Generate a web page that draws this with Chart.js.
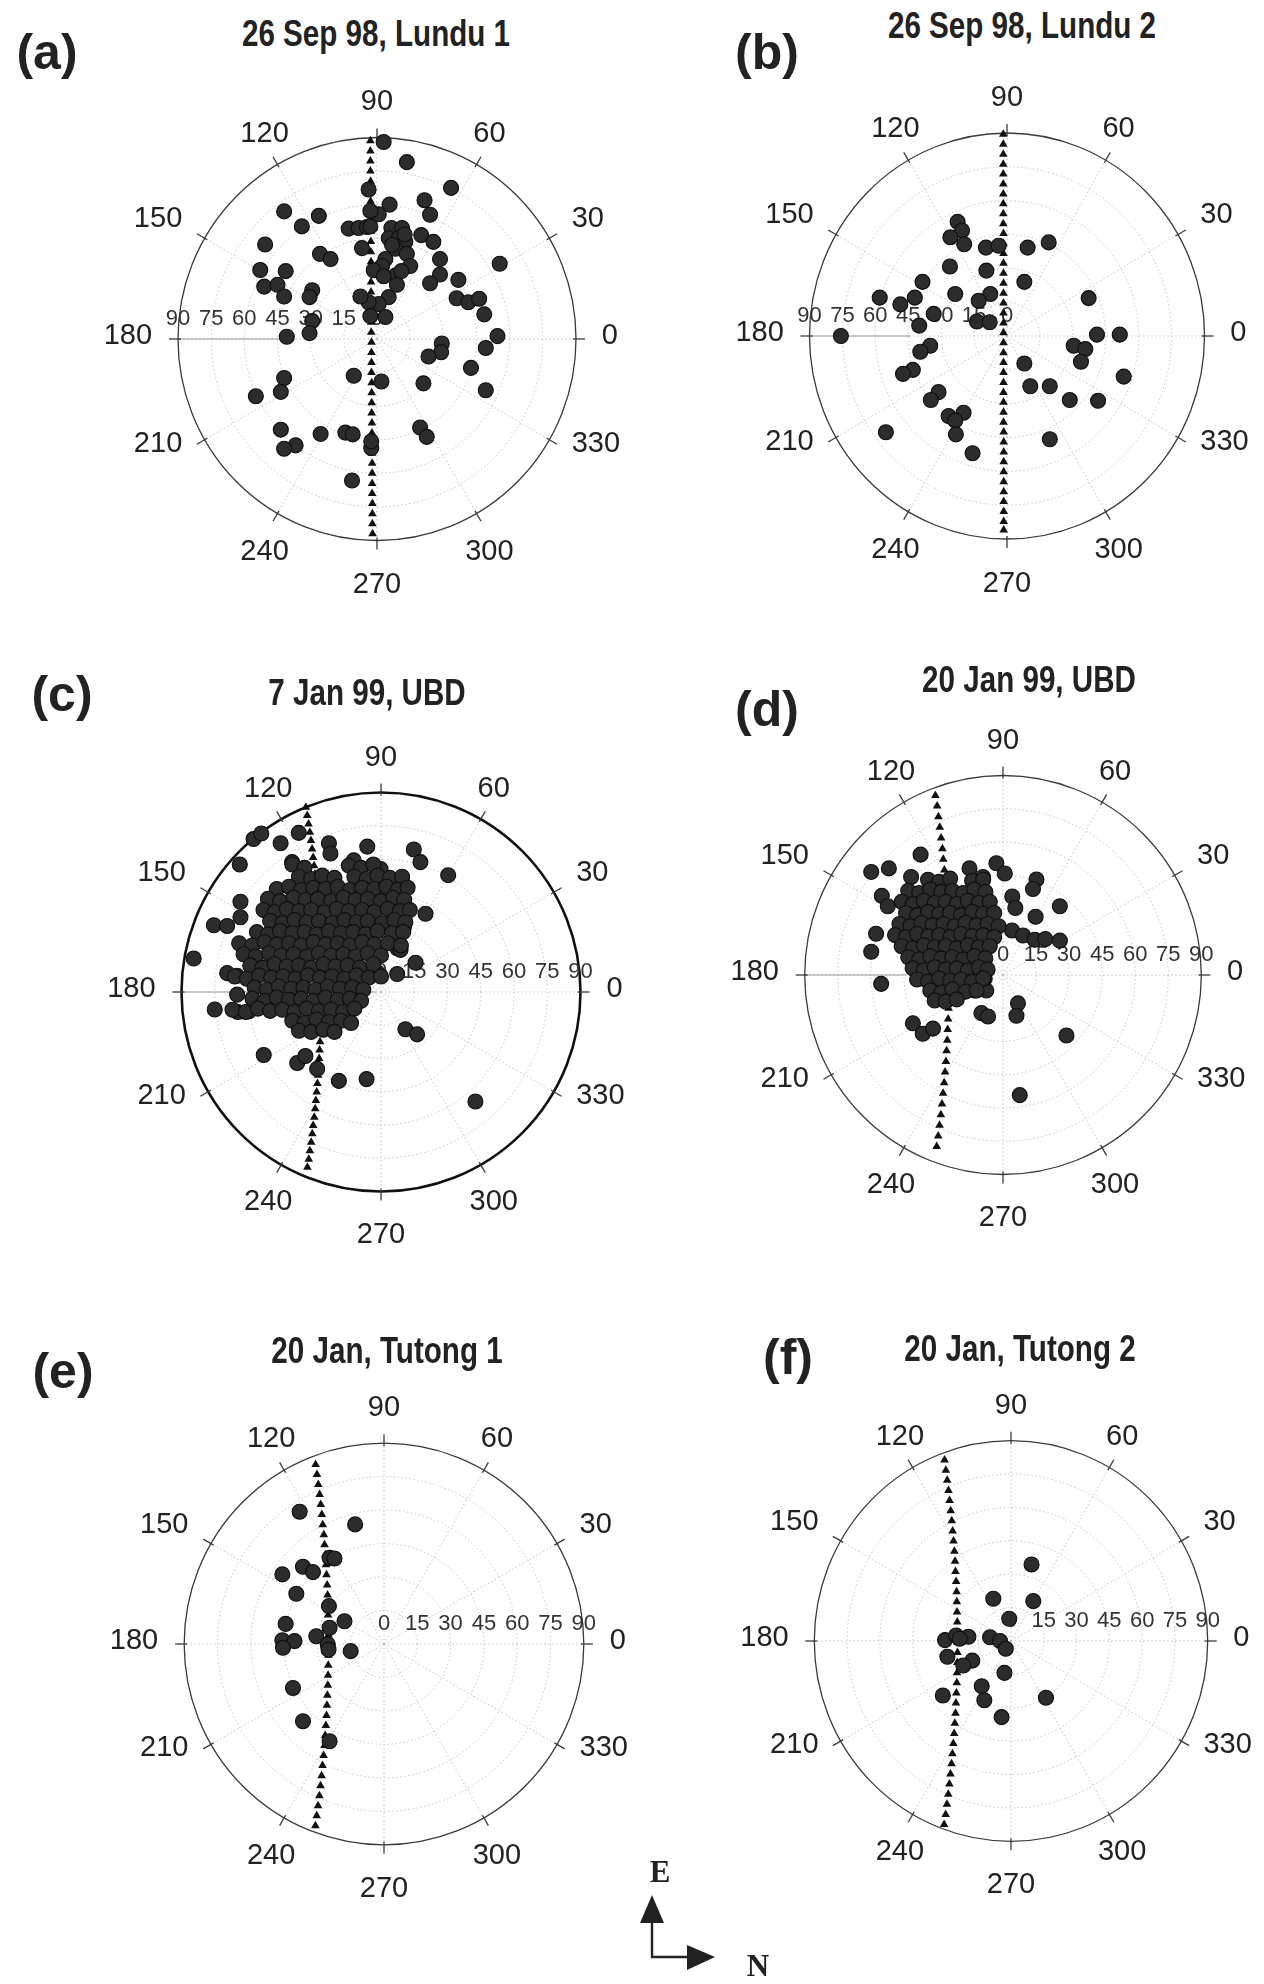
<!DOCTYPE html>
<html>
<head>
<meta charset="utf-8">
<script src="https://cdn.jsdelivr.net/npm/chart.js@4.4.0/dist/chart.umd.min.js"></script>
<style>
  html, body { margin: 0; padding: 0; background: #fff; }
  #page { position: relative; width: 1264px; height: 1984px; overflow: hidden; background: #fff; }
  .panel { position: absolute; }
  .title { position: absolute; transform: translate(-50%, -50%) scaleX(0.8); font: bold 37px "Liberation Sans", Arial, sans-serif; color: #222; white-space: nowrap; }
  .letter { position: absolute; transform: translate(-50%, -50%); font: bold 50px "Liberation Sans", Arial, sans-serif; color: #222; }
  #compass { position: absolute; left: 629px; top: 1844px; }
</style>
</head>
<body>
<div id="page"></div>
<script>
// Sky-plot axes: azimuth labels (deg) and zenith-angle rings (deg)
const AZIMUTH_TICKS = [0, 30, 60, 90, 120, 150, 180, 210, 240, 270, 300, 330];
const ZENITH_TICKS = [0, 15, 30, 45, 60, 75, 90];

const PANEL_TITLES = ['26 Sep 98, Lundu 1', '26 Sep 98, Lundu 2', '7 Jan 99, UBD', '20 Jan 99, UBD', '20 Jan, Tutong 1', '20 Jan, Tutong 2'];
const PANEL_LETTERS = ['(a)', '(b)', '(c)', '(d)', '(e)', '(f)'];

// Observations: [x, y] = zenith-angle projection (x toward N, y toward E), degrees
const lundu1Dots = [[3,88],[13.5,79],[33.5,67.5],[21.5,62],[24,55.5],[5.7,60],[-3.8,66.8],[-42,57],[-26.3,55],[-34,50.3],[-50.6,42.2],[-52.8,30.8],[-41.3,30.3],[-51,23.4],[-45,24.2],[-42,19],[-25.8,38],[-21,35.7],[-29.3,21.8],[-30.5,18.7],[-29.3,8],[-30.5,2.6],[-40.8,1],[-12.8,49.3],[-8.3,49.6],[-4.5,50],[-6.8,40.6],[0.8,55.7],[6.5,49.6],[11.3,49.6],[5.3,45],[9.8,45],[12.8,43.4],[8.3,40.3],[13.5,38],[3.8,35.7],[2.3,32.6],[15,32.6],[20,46.4],[25.5,43.4],[28.5,35.7],[28.5,28.8],[24,24.9],[36.8,26.4],[55.5,33.6],[36,18.2],[41.3,16.4],[46.2,18],[48.5,11],[54.5,1.3],[49.2,-4],[29.3,-2],[29,-5.9],[23.3,-7.8],[42.5,-12.9],[49.2,-22.9],[21,-19.8],[19.5,-39.5],[22.5,-43.7],[8.3,28.3],[9,24.2],[5.3,18.7],[0.8,15.6],[-3.8,16.4],[-7.5,19],[-1.5,30.7],[3.8,9.8],[-3,10.2],[-10.5,-16.4],[2,-19],[-42,-17.4],[-43.5,-23.6],[-54.8,-25.6],[-43.5,-40.5],[-36.8,-47.5],[-42,-49],[-25.5,-42.4],[-14.3,-41.8],[-11,-42.6],[-2.6,-48.7],[-11.3,-63.2],[-2.6,-45.7],[6.8,42],[12.5,46.7],[3,28],[11,30.3],[-3,57.2],[-3,50.3]];
const lundu1Track = [[-3,88.5],[-3,84],[-3,79.5],[-3,75],[-2.9,70.5],[-2.9,66],[-2.9,61.5],[-2.9,57],[-2.8,52.5],[-2.8,48],[-2.8,43.5],[-2.8,39],[-2.7,34.5],[-2.7,30],[-2.7,25.5],[-2.7,21],[-2.6,16.5],[-2.6,12],[-2.6,7.5],[-2.6,3],[-2.5,-1.5],[-2.5,-6],[-2.5,-10.5],[-2.5,-15],[-2.4,-19.5],[-2.4,-24],[-2.4,-28.5],[-2.4,-33],[-2.3,-37.5],[-2.3,-42],[-2.3,-46.5],[-2.3,-51],[-2.2,-55.5],[-2.2,-60],[-2.2,-64.5],[-2.2,-69],[-2.1,-73.5],[-2.1,-78],[-2.1,-82.5],[-2,-87]];

const lundu2Dots = [[-22.5,50.6],[-20.5,46.8],[-25.8,43.8],[-19.5,40.7],[-9.6,39.2],[-3.8,40],[9.4,39.2],[19,41.5],[-26,30.8],[-9.4,29],[7.9,24],[-38.5,24],[-23.6,18.6],[-7.6,18.6],[-12.9,15.6],[-58,17],[-48.6,14],[-42,17],[-33.4,9.8],[-40,4.6],[-13.7,6.4],[-7.9,6.1],[-75.7,0],[37.2,16.8],[41,0.6],[51.4,0.6],[30.4,-4.3],[35.7,-5.8],[33.7,-11.4],[53.2,-18],[7.9,-12.2],[10.6,-22.3],[19.5,-22.3],[28.6,-28.4],[41.5,-28.7],[19.5,-45.8],[-35,-4.3],[-39.5,-7],[-42.9,-15],[-47.4,-16.8],[-31.2,-24.9],[-34.7,-28.4],[-26.6,-35.5],[-19.8,-34],[-23.6,-37.5],[-23.3,-43.6],[-15.7,-52],[-55.2,-42.7]];
const lundu2Track = [[-1.7,89.5],[-1.7,85],[-1.7,80.6],[-1.7,76.2],[-1.7,71.8],[-1.7,67.4],[-1.7,63],[-1.7,58.6],[-1.7,54.2],[-1.7,49.8],[-1.6,45.4],[-1.6,41],[-1.6,36.6],[-1.6,32.2],[-1.6,27.8],[-1.6,23.4],[-1.6,19],[-1.6,14.6],[-1.6,10.2],[-1.6,5.8],[-1.6,1.4],[-1.6,-3],[-1.6,-7.4],[-1.6,-11.8],[-1.6,-16.2],[-1.6,-20.6],[-1.6,-25],[-1.6,-29.4],[-1.6,-33.8],[-1.6,-38.2],[-1.5,-42.6],[-1.5,-47],[-1.5,-51.4],[-1.5,-55.8],[-1.5,-60.2],[-1.5,-64.6],[-1.5,-69],[-1.5,-73.4],[-1.5,-77.8],[-1.5,-82.2],[-1.5,-86]];

const ubd7Dots = [
  [-57.5,69],[-54,71.5],[-63.7,57.5],[-45.3,67.1],[-37.1,71.8],[-23.5,67.1],[-22.8,62.5],[-6.2,65.6],[14.8,64.3],[17.8,58.6],[30.3,52.7],[20.1,35.3],[9.5,50],[8.8,44.6],[-0.2,55.5],[-12.3,59.4],[-40.1,58.6],[-63.4,40.7],[-63.4,33.7],[-75.4,30.1],[-69.4,29.8],[-84.5,15.1],[-69.4,8.5],[-64.9,7.3],[-64.9,-1.2],[-75,-7.9],[-64.6,-9],[-59.6,-8.7],[-52.9,-28.4],[-37.8,-32],[-34.1,-28.9],[-28.8,-34.7],[-19,-40.1],[-6.5,-39.3],[11,-16.8],[16.3,-19.1],[42.6,-49.4],[15.6,13.2],[7.3,8.1],[-1.7,8.9],[7.3,19.7],[8.8,19],[10.3,29],
  [-40,57.5],[-34.5,56],[-14.5,57],[-9,56],[-3.5,57.5],
  [-37,52],[-31.5,51],[-26.5,52.5],[-21,51.5],[-12,52],[-6.5,51],[-1.5,52.5],[4,51.5],[9.5,52],
  [-47,46.5],[-41.5,47.5],[-36,46],[-30.5,47],[-25,46.5],[-19.5,47.5],[-14,46],[-8.5,47],[-3,46.5],[2.5,47.5],[7.5,46],[12,47],
  [-51,42],[-45.5,41],[-39.5,42.5],[-34,41.5],[-28.5,42],[-22.5,41],[-17,42.5],[-11.5,41.5],[-6,42],[0,41],[5.5,42.5],[10.5,41.5],
  [-53,37],[-48,36],[-42.5,37.5],[-37,36.5],[-31.5,37],[-25.5,36],[-20,37.5],[-14.5,36.5],[-8.5,37],[-3,36],[3,37.5],[8.5,36.5],[13,37],
  [-50,32],[-44.5,31],[-39,32.5],[-33.5,31.5],[-28,32],[-22,31],[-16.5,32.5],[-11,31.5],[-6,32],[0.5,31],[6,32.5],[11,31.5],
  [-56,27],[-51,26],[-45.5,27.5],[-40,26.5],[-34.5,27],[-29,26],[-23.5,27.5],[-18,26.5],[-12.5,27],[-7,26],[-1.5,27.5],[5,26.5],[10,27],
  [-64,22],[-58,21],[-52.5,22.5],[-47,21.5],[-41.5,22],[-36,21],[-30.5,22.5],[-25,21.5],[-19.5,22],[-14,21],[-8.5,22.5],[-3,21.5],[3,22],[9,21],
  [-62,17],[-56.5,16],[-50.5,17.5],[-45,16.5],[-39.5,17],[-33.5,16],[-28,17.5],[-22.5,16.5],[-17,17],[-11.5,16],[-6,17.5],[0,16.5],
  [-59,12],[-53.5,11],[-48,12.5],[-42.5,11.5],[-37,12],[-31.5,11],[-26,12.5],[-20.5,11.5],[-15,12],[-9.5,11],[-3.5,12.5],
  [-66,7],[-60.5,6],[-55,7.5],[-49.5,6.5],[-44,7],[-38.5,6],[-33,7.5],[-27.5,6.5],[-22,7],[-16.5,6],[-11,7.5],[-5.5,6.5],[0,7],
  [-57,2],[-51.5,1],[-46,2.5],[-40.5,1.5],[-35,2],[-29.5,1],[-24,2.5],[-18.5,1.5],[-13,2],[-8,1],
  [-58,-3],[-52.5,-4],[-47,-2.5],[-41.5,-3.5],[-36,-3],[-30.5,-4],[-25,-2.5],[-19.5,-3.5],[-14,-3],[-9,-4],
  [-67,-8],[-61,-9],[-55.5,-7.5],[-50,-8.5],[-44.5,-8],[-39,-9],[-33.5,-7.5],[-28,-8.5],[-22.5,-8],[-17,-9],[-12,-7.5],
  [-40,-13],[-34.5,-14],[-29,-12.5],[-23.5,-13.5],[-18,-13],[-13.5,-14],
  [-37,-17.5],[-31.5,-18],[-26,-17],[-21,-18]
];
const ubd7Track = [[-33.9,83.4],[-33.3,79.6],[-32.7,75.8],[-32.1,72.1],[-31.6,68.3],[-31.1,64.5],[-30.6,60.7],[-30.2,56.9],[-29.8,53.2],[-29.4,49.4],[-29.1,45.6],[-28.7,41.8],[-28.4,38],[-28.2,34.3],[-27.9,30.5],[-27.7,26.7],[-27.5,22.9],[-27.4,19.1],[-27.2,15.4],[-27.1,11.6],[-27.1,7.8],[-27,4],[-27,0.2],[-27,-3.5],[-27.1,-7.3],[-27.1,-11.1],[-27.2,-14.9],[-27.3,-18.7],[-27.5,-22.4],[-27.7,-26.2],[-27.9,-30],[-28.1,-33.8],[-28.4,-37.6],[-28.7,-41.3],[-29,-45.1],[-29.4,-48.9],[-29.7,-52.7],[-30.1,-56.5],[-30.6,-60.2],[-31,-64],[-31.5,-67.8],[-32.1,-71.6],[-32.6,-75.4],[-33.2,-79.1]];

const ubd20Dots = [
  [-37.4,54.3],[-59.8,46.5],[-51.8,48.1],[-41.7,44.2],[-55,35.7],[-52.3,31],[-43.2,34.9],[-57.6,18.6],[-59.8,10.5],[-55.3,-4],[-15.2,48.1],[-9.1,44.2],[-3,50.4],[0.8,45.8],[15.2,43.1],[13.6,38.8],[4.2,35.4],[5.6,30.2],[25.8,31],[14.8,26.3],[4.1,20.1],[9.1,17.8],[14.4,15.9],[19.2,16.2],[25.8,15.5],[-40.9,-21.8],[-36.4,-26.5],[-31.8,-24.2],[-9.8,-17.2],[-6.8,-18.7],[6.8,-12.8],[6.1,-18.4],[28.8,-27.3],[7.6,-54.2],[-7.6,-7],[-12.9,-7],[-9.1,3],[-8.3,-1.6],
  [-34,43],[-29,42],[-24,43.5],[-14,42.5],[-9,43],
  [-43,38],[-38,37],[-33,38.5],[-28,37.5],[-23,38],[-18,37],[-13,38.5],[-8,37.5],
  [-46,33],[-41,32],[-36,33.5],[-31,32.5],[-26,33],[-21,32],[-16,33.5],[-11,32.5],[-6,33],
  [-44,28],[-39,27],[-34,28.5],[-29,27.5],[-24,28],[-19,27],[-14,28.5],[-9,27.5],[-4,28],
  [-47,23],[-42,22],[-37,23.5],[-32,22.5],[-27,23],[-22,22],[-17,23.5],[-12,22.5],[-7,23],[-2,22],
  [-49,18],[-44,17],[-39,18.5],[-34,17.5],[-29,18],[-24,17],[-19,18.5],[-14,17.5],[-9,18],[-4,17],
  [-46,13],[-41,12],[-36,13.5],[-31,12.5],[-26,13],[-21,12],[-16,13.5],[-11,12.5],[-6,13],
  [-43,8],[-38,7],[-33,8.5],[-28,7.5],[-23,8],[-18,7],[-13,8.5],[-8,7.5],
  [-41,3],[-36,2],[-31,3.5],[-26,2.5],[-21,3],[-16,2],[-11,3.5],[-7,2.5],
  [-39,-2],[-34,-3],[-29,-1.5],[-24,-2.5],[-19,-2],[-14,-3],[-9,-1.5],
  [-33,-7],[-28,-8],[-23,-6.5],[-17,-7.5],[-12,-7],
  [-31,-11.5],[-26,-12],[-21,-11]
];
const ubd20Track = [[-30.7,81],[-29.9,76.2],[-29.3,71.4],[-28.7,66.6],[-28.1,61.8],[-27.5,57],[-27.1,52.2],[-26.6,47.4],[-26.2,42.6],[-25.8,37.8],[-25.5,33],[-25.2,28.2],[-25,23.4],[-24.8,18.6],[-24.7,13.8],[-24.6,9],[-24.5,4.2],[-24.5,-0.6],[-24.5,-5.4],[-24.6,-10.2],[-24.7,-15],[-24.9,-19.8],[-25.1,-24.6],[-25.3,-29.4],[-25.6,-34.2],[-25.9,-39],[-26.3,-43.8],[-26.7,-48.6],[-27.2,-53.4],[-27.7,-58.2],[-28.2,-63],[-28.8,-67.8],[-29.4,-72.6],[-30.1,-77.4]];

const tutong1Dots = [[-38,59.3],[-13,53.6],[-24.5,38.6],[-22.3,38.3],[-36.5,34.6],[-32,32.2],[-45.8,31.2],[-39.5,22.5],[-24.8,17],[-17.8,10.2],[-44.3,9],[-24.5,7.3],[-30.5,3.5],[-45.8,1.7],[-40.3,1.3],[-45.5,-1.7],[-25.3,-0.2],[-25,-2.5],[-15,-3.2],[-41,-19.7],[-36.5,-34.6],[-24.5,-43.6]];
const tutong1Track = [[-30.8,80.5],[-30.2,76],[-29.6,71.5],[-29,67],[-28.5,62.5],[-28,58],[-27.6,53.5],[-27.1,49],[-26.8,44.5],[-26.4,40],[-26.1,35.5],[-25.9,31],[-25.6,26.5],[-25.4,22],[-25.3,17.5],[-25.2,13],[-25.1,8.5],[-25,4],[-25,-0.5],[-25,-5],[-25.1,-9.5],[-25.2,-14],[-25.3,-18.5],[-25.5,-23],[-25.7,-27.5],[-25.9,-32],[-26.2,-36.5],[-26.5,-41],[-26.8,-45.5],[-27.2,-50],[-27.7,-54.5],[-28.1,-59],[-28.6,-63.5],[-29.1,-68],[-29.7,-72.5],[-30.3,-77],[-30.9,-81.5]];

const tutong2Dots = [[9.4,34.4],[-8.1,19],[10.2,17.9],[-0.8,10],[-30.2,0.4],[-25.1,2.5],[-19.5,1.9],[-9.6,1.7],[-5,0],[-2.4,-3.5],[-29.1,-7.1],[-17.7,-8.8],[-21.8,-11],[-3,-14.3],[-13.4,-20.3],[-12.2,-26.6],[-31.2,-24.5],[16,-25.5],[-4.3,-34.2],[-23.5,1]];
const tutong2Track = [[-30.4,81.3],[-29.8,76.7],[-29.2,72.2],[-28.6,67.6],[-28.1,63.1],[-27.6,58.5],[-27.1,54],[-26.7,49.4],[-26.3,44.9],[-25.9,40.3],[-25.6,35.8],[-25.4,31.2],[-25.1,26.7],[-24.9,22.1],[-24.8,17.6],[-24.7,13],[-24.6,8.5],[-24.5,3.9],[-24.5,-0.6],[-24.5,-5.2],[-24.6,-9.7],[-24.7,-14.3],[-24.8,-18.8],[-25,-23.4],[-25.2,-27.9],[-25.4,-32.5],[-25.7,-37],[-26,-41.6],[-26.4,-46.1],[-26.8,-50.7],[-27.2,-55.2],[-27.7,-59.8],[-28.2,-64.3],[-28.7,-68.9],[-29.3,-73.4],[-29.9,-78],[-30.6,-82.5]];

const PANEL_DOTS = [lundu1Dots, lundu2Dots, ubd7Dots, ubd20Dots, tutong1Dots, tutong2Dots];
const PANEL_TRACKS = [lundu1Track, lundu2Track, ubd7Track, ubd20Track, tutong1Track, tutong2Track];

// Page layout of each sky plot (pixels)
const PANEL_LAYOUT = [
  { cx: 377.2, cy: 339,    rx: 199,   ry: 201.5, rim: 1.3, rimColor: '#3a3a3a', ringSide: 180, solidTo: 43, title: [376, 34],   letter: [47, 52] },
  { cx: 1006.5, cy: 336,   rx: 197.5, ry: 203,   rim: 1.3, rimColor: '#3a3a3a', ringSide: 180, solidTo: 44, title: [1022, 26],  letter: [767, 52] },
  { cx: 380.5, cy: 992.4,  rx: 199.5, ry: 199.5, rim: 2.6, rimColor: '#111',    ringSide: 0,   solidTo: 2,  title: [367, 693],  letter: [62, 694] },
  { cx: 1003.3, cy: 974.5, rx: 198.3, ry: 199.5, rim: 1.3, rimColor: '#3a3a3a', ringSide: 0,   solidTo: 44, title: [1029, 680], letter: [767, 709] },
  { cx: 384.3, cy: 1644.2, rx: 199.8, ry: 200.8, rim: 1.3, rimColor: '#3a3a3a', ringSide: 0,   solidTo: null, title: [387, 1351], letter: [63, 1371] },
  { cx: 1011, cy: 1641.3,  rx: 196.7, ry: 200.3, rim: 1.3, rimColor: '#3a3a3a', ringSide: 0,   solidTo: null, title: [1020, 1349], letter: [788, 1357] }
];
const CANVAS_W = 600, CANVAS_H = 560;

// Polar frame: dotted rings and spokes, rim, ticks, azimuth and zenith labels
const polarFrame = {
  id: 'polarFrame',
  beforeDatasetsDraw(chart, args, opts) {
    const ctx = chart.ctx;
    const xs = chart.scales.x, ys = chart.scales.y;
    const cx = xs.getPixelForValue(0), cy = ys.getPixelForValue(0);
    const rx = xs.getPixelForValue(90) - cx, ry = cy - ys.getPixelForValue(90);
    const rad = d => d * Math.PI / 180;
    const at = (r, a) => [xs.getPixelForValue(r * Math.cos(rad(a))), ys.getPixelForValue(r * Math.sin(rad(a)))];
    ctx.save();

    ctx.strokeStyle = '#c4c4c4';
    ctx.lineWidth = 1;
    ctx.setLineDash([1.5, 2.5]);
    ZENITH_TICKS.forEach(r => {
      if (r <= 0 || r >= 90) return;
      ctx.beginPath();
      ctx.ellipse(cx, cy, rx * r / 90, ry * r / 90, 0, 0, Math.PI * 2);
      ctx.stroke();
    });
    AZIMUTH_TICKS.forEach(a => {
      const p = at(90, a);
      ctx.beginPath();
      ctx.moveTo(cx, cy);
      ctx.lineTo(p[0], p[1]);
      ctx.stroke();
    });
    ctx.setLineDash([]);

    if (opts.solidTo !== null) {
      const p0 = at(90, 180), p1 = at(opts.solidTo, 180);
      ctx.strokeStyle = '#9a9a9a';
      ctx.lineWidth = 1.2;
      ctx.beginPath();
      ctx.moveTo(p0[0], p0[1]);
      ctx.lineTo(p1[0], p1[1]);
      ctx.stroke();
    }

    ctx.strokeStyle = opts.rimColor;
    ctx.lineWidth = opts.rim;
    ctx.beginPath();
    ctx.ellipse(cx, cy, rx, ry, 0, 0, Math.PI * 2);
    ctx.stroke();

    ctx.strokeStyle = '#3a3a3a';
    ctx.lineWidth = 1.3;
    AZIMUTH_TICKS.forEach(a => {
      const c = Math.cos(rad(a)), s = Math.sin(rad(a));
      ctx.beginPath();
      ctx.moveTo(cx + (rx - 3) * c, cy - (ry - 3) * s);
      ctx.lineTo(cx + (rx + 9) * c, cy - (ry + 9) * s);
      ctx.stroke();
    });

    ctx.fillStyle = '#222';
    ctx.font = '29px "Liberation Sans", Arial, sans-serif';
    ctx.textBaseline = 'middle';
    const kx = rx / 200, ky = ry / 200;
    AZIMUTH_TICKS.forEach(a => {
      const c = Math.cos(rad(a)), s = Math.sin(rad(a));
      const ax = cx + (rx + 26 * kx) * c;
      const lift = s > 0.01 ? 232 : (s < -0.7 ? 247 : (s < -0.01 ? 214 : 0));
      const ay = cy - 3 - s * lift * ky;
      ctx.textAlign = Math.abs(c) < 0.6 ? 'center' : (c > 0 ? 'left' : 'right');
      ctx.fillText(String(a), ax, ay);
    });

    ctx.fillStyle = '#333';
    ctx.font = '22px "Liberation Sans", Arial, sans-serif';
    ctx.textAlign = 'center';
    ZENITH_TICKS.forEach(r => {
      const p = at(r, opts.ringSide);
      ctx.fillText(String(r), p[0], cy - 20);
    });
    ctx.restore();
  }
};

const page = document.getElementById('page');

PANEL_LAYOUT.forEach((L, i) => {
  const canvas = document.createElement('canvas');
  canvas.className = 'panel';
  canvas.width = CANVAS_W;
  canvas.height = CANVAS_H;
  canvas.style.width = CANVAS_W + 'px';
  canvas.style.height = CANVAS_H + 'px';
  canvas.style.left = (L.cx - CANVAS_W / 2) + 'px';
  canvas.style.top = (L.cy - CANVAS_H / 2) + 'px';
  page.appendChild(canvas);

  const padX = CANVAS_W / 2 - L.rx, padY = CANVAS_H / 2 - L.ry;
  new Chart(canvas, {
    type: 'scatter',
    data: {
      datasets: [
        {
          label: 'observations',
          data: PANEL_DOTS[i],
          pointStyle: 'circle',
          pointRadius: 7.5,
          pointBackgroundColor: '#2c2c2c',
          pointBorderColor: '#0e0e0e',
          pointBorderWidth: 1.1,
          clip: false,
          order: 0
        },
        {
          label: 'track',
          data: PANEL_TRACKS[i],
          pointStyle: 'triangle',
          pointRadius: 5,
          pointBackgroundColor: '#111',
          pointBorderWidth: 0,
          clip: false,
          order: 1
        }
      ]
    },
    options: {
      responsive: false,
      animation: false,
      devicePixelRatio: 1,
      layout: { padding: { left: padX, right: padX, top: padY, bottom: padY } },
      scales: {
        x: { type: 'linear', min: -90, max: 90, display: false },
        y: { type: 'linear', min: -90, max: 90, display: false }
      },
      plugins: {
        legend: { display: false },
        tooltip: { enabled: false },
        polarFrame: { rim: L.rim, rimColor: L.rimColor, ringSide: L.ringSide, solidTo: L.solidTo }
      },
      events: []
    },
    plugins: [polarFrame]
  });

  const t = document.createElement('div');
  t.className = 'title';
  t.textContent = PANEL_TITLES[i];
  t.style.left = L.title[0] + 'px';
  t.style.top = L.title[1] + 'px';
  page.appendChild(t);

  const lt = document.createElement('div');
  lt.className = 'letter';
  lt.textContent = PANEL_LETTERS[i];
  lt.style.left = L.letter[0] + 'px';
  lt.style.top = L.letter[1] + 'px';
  page.appendChild(lt);
});

// Orientation key: E up, N right
const svgNS = 'http://www.w3.org/2000/svg';
const key = document.createElementNS(svgNS, 'svg');
key.setAttribute('id', 'compass');
key.setAttribute('width', '150');
key.setAttribute('height', '134');
key.innerHTML =
  '<text x="31" y="38" text-anchor="middle" font-family="Liberation Serif, Times New Roman, serif" font-weight="bold" font-size="31" fill="#222">E</text>' +
  '<polyline points="23,78 23,113 60,113" fill="none" stroke="#222" stroke-width="2.4"/>' +
  '<polygon points="23,51 11,79 35,79" fill="#222"/>' +
  '<polygon points="86,113 58,101 58,126" fill="#222"/>' +
  '<text x="129" y="132" text-anchor="middle" font-family="Liberation Serif, Times New Roman, serif" font-weight="bold" font-size="31" fill="#222">N</text>';
page.appendChild(key);
</script>
</body>
</html>
